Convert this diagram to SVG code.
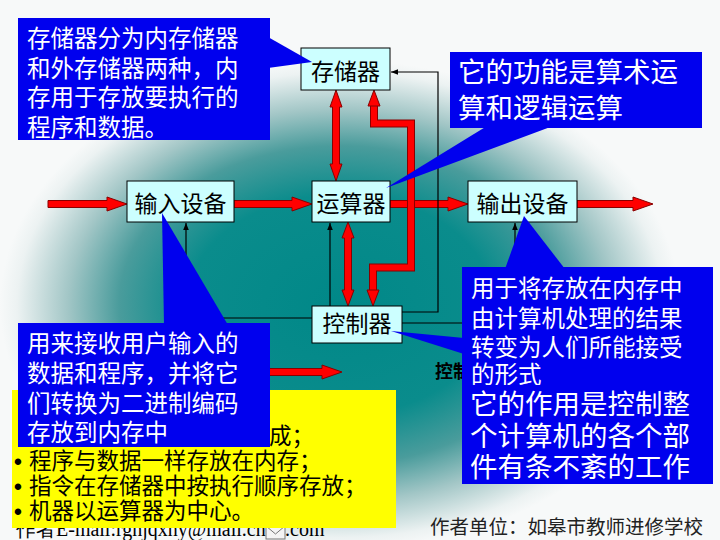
<svg xmlns="http://www.w3.org/2000/svg" width="720" height="540" viewBox="0 0 720 540">
<defs>
<radialGradient id="bg" gradientUnits="userSpaceOnUse" cx="340" cy="305" r="340" gradientTransform="translate(340 305) scale(1 0.72) translate(-340 -305)">
<stop offset="0" stop-color="#008888"/>
<stop offset="0.45" stop-color="#0a8c8c"/>
<stop offset="0.65" stop-color="#4a9c9c"/>
<stop offset="0.8" stop-color="#a2c6c6"/>
<stop offset="0.95" stop-color="#ecf2f2"/>
<stop offset="1" stop-color="#f7f9f9"/>
</radialGradient>
<marker id="ah" viewBox="0 0 10 10" refX="10" refY="5" markerWidth="7" markerHeight="7" markerUnits="userSpaceOnUse" orient="auto"><path d="M0,1 L10,5 L0,9 z" fill="#000"/></marker>
</defs>
<style>
.box{fill:#ccffff;stroke:#000;stroke-width:1}
.bt{font-family:"Noto Sans CJK SC",sans-serif;font-size:23px;fill:#000;text-anchor:middle}
.call{fill:#0000ee}
.ct{font-family:"Noto Sans CJK SC",sans-serif;fill:#fff;font-size:23.5px}
.big{font-size:27.5px}
.ra{fill:#ff0000;stroke:#880000;stroke-width:1}
.so{fill:none;stroke:#880000;stroke-width:8;stroke-linejoin:miter}
.si{fill:none;stroke:#ff0000;stroke-width:6;stroke-linejoin:miter}
.thin{fill:none;stroke:#000;stroke-width:1.2}
.yt{font-family:"Noto Sans CJK SC",sans-serif;font-size:22.5px;fill:#000}
.dot{font-family:"Liberation Sans",sans-serif;font-weight:bold}
</style>
<rect width="720" height="540" fill="url(#bg)"/>

<g id="connectors">
<polygon class="ra" points="48,200.5 107,200.5 107,197 127,204 107,211 107,207.5 48,207.5"/>
<polygon class="ra" points="234,200.5 292,200.5 292,197 312,204 292,211 292,207.5 234,207.5"/>
<polygon class="ra" points="390,200.5 448,200.5 448,197 468,204 448,211 448,207.5 390,207.5"/>
<polygon class="ra" points="577,200.5 633,200.5 633,197 653,204 633,211 633,207.5 577,207.5"/>
<polygon class="ra" points="250,368.5 322,368.5 322,365 342,372 322,379 322,375.5 250,375.5"/>
<polygon class="ra" points="336,90 342,107 339.5,107 339.5,164 342,164 336,181 330,164 332.5,164 332.5,107 330,107"/>
<polygon class="ra" points="348,222 354,238 351.5,238 351.5,290 354,290 348,306 342,290 344.5,290 344.5,238 342,238"/>
<path class="so" d="M374,106 V123.5 H411 V267.5 H373 V290"/>
<path class="si" d="M374,106 V123.5 H411 V267.5 H373 V290"/>
<polygon class="ra" points="374,90 380,106 368,106"/>
<polygon class="ra" points="373,306 379,290 367,290"/>
<path class="thin" d="M402,312 H438 V72 H391" marker-end="url(#ah)"/>
<path class="thin" d="M330,306 V223" marker-end="url(#ah)"/>
<path class="thin" d="M312,318 H186 V223" marker-end="url(#ah)"/>
<path class="thin" d="M402,323 H515 V223" marker-end="url(#ah)"/>
</g>

<g id="memory"><rect class="box" x="301" y="48" width="89" height="42"/><text class="bt" x="345.5" y="80">存储器</text></g>
<g id="input"><rect class="box" x="127" y="181" width="107" height="41"/><text class="bt" x="180.5" y="212">输入设备</text></g>
<g id="alu"><rect class="box" x="312" y="181" width="78" height="41"/><text class="bt" x="351" y="212">运算器</text></g>
<g id="output"><rect class="box" x="468" y="181" width="109" height="41"/><text class="bt" x="522.5" y="212">输出设备</text></g>
<g id="controller"><rect class="box" x="312" y="306" width="90" height="37"/><text class="bt" x="357" y="332">控制器</text></g>

<text x="435" y="378" font-family="'Noto Sans CJK SC',sans-serif" font-size="18" font-weight="bold" fill="#000">控制</text>

<text x="16" y="536" font-family="'Liberation Serif',serif" font-size="20" fill="#000">作者E-mail:rgnjqxny@mail.cn</text>
<g id="envelope"><rect x="266" y="526" width="19" height="13" fill="#f4f4f4" stroke="#777" stroke-width="1"/><path d="M266,526 L275.5,534 L285,526" fill="none" stroke="#777" stroke-width="1"/></g>
<text x="285" y="536" font-family="'Liberation Serif',serif" font-size="20" fill="#000">.com</text>

<g id="notes">
<rect x="12" y="390" width="384" height="138" fill="#ffff00"/>
<text class="yt" x="269" y="444">成；</text>
<text class="yt" y="469"><tspan class="dot" x="14" y="469">•</tspan><tspan x="29" y="469">程序与数据一样存放在内存；</tspan></text>
<text class="yt" y="494"><tspan class="dot" x="14" y="494">•</tspan><tspan x="29" y="494">指令在存储器中按执行顺序存放；</tspan></text>
<text class="yt" y="519"><tspan class="dot" x="14" y="519">•</tspan><tspan x="29" y="519">机器以运算器为中心。</tspan></text>
</g>

<g id="callout-memory">
<polygon class="call" points="268,37 312,62 268,68"/>
<rect class="call" x="18" y="18" width="252" height="122"/>
<text class="ct" x="27" y="47">存储器分为内存储器</text>
<text class="ct" x="27" y="77">和外存储器两种，内</text>
<text class="ct" x="27" y="106">存用于存放要执行的</text>
<text class="ct" x="27" y="136">程序和数据。</text>
</g>

<g id="callout-alu">
<polygon class="call" points="487,126 386,188 553,126"/>
<rect class="call" x="450" y="52" width="252" height="76"/>
<text class="ct big" x="458" y="82">它的功能是算术运</text>
<text class="ct big" x="458" y="118">算和逻辑运算</text>
</g>

<g id="callout-input">
<polygon class="call" points="162,213 164,325 228,325"/>
<rect class="call" x="18" y="323" width="252" height="124"/>
<text class="ct" x="27" y="352">用来接收用户输入的</text>
<text class="ct" x="27" y="382">数据和程序，并将它</text>
<text class="ct" x="27" y="412">们转换为二进制编码</text>
<text class="ct" x="27" y="441">存放到内存中</text>
</g>

<g id="callout-output">
<polygon class="call" points="524,216 505,269 565,269"/>
<rect class="call" x="462" y="267" width="251" height="120"/>
<text class="ct" x="471" y="297">用于将存放在内存中</text>
<text class="ct" x="471" y="327">由计算机处理的结果</text>
<text class="ct" x="471" y="356">转变为人们所能接受</text>
<text class="ct" x="471" y="383">的形式</text>
</g>

<g id="callout-controller">
<polygon class="call" points="391,331 464,338 464,354"/>
<rect class="call" x="462" y="385" width="251" height="99"/>
<text class="ct big" x="470" y="414">它的作用是控制整</text>
<text class="ct big" x="470" y="446">个计算机的各个部</text>
<text class="ct big" x="470" y="477">件有条不紊的工作</text>
</g>

<text x="430" y="534" font-family="'Noto Sans CJK SC',sans-serif" font-size="19.5" fill="#222">作者单位：如皋市教师进修学校</text>
</svg>
